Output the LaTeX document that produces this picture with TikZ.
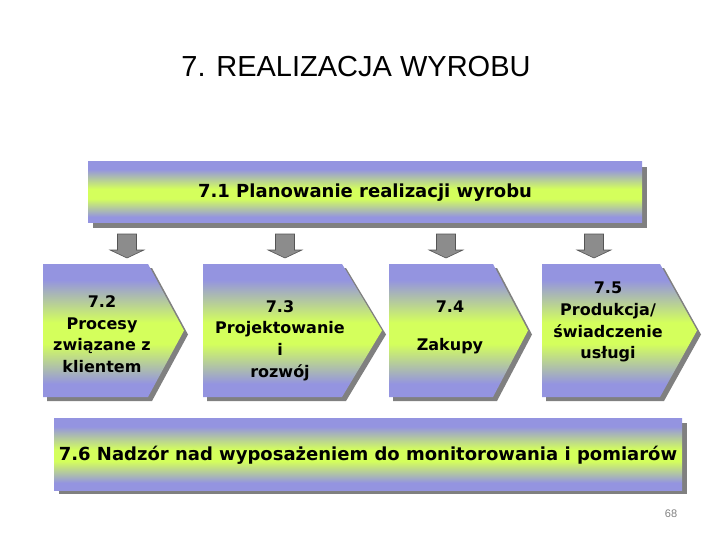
\documentclass[tikz,border=0pt]{standalone}
\usepackage{fontspec}
\setmainfont{DejaVu Sans}
\newfontfamily\titlefont{Liberation Sans}
\usetikzlibrary{calc}
\definecolor{lav}{RGB}{148,148,224}
\definecolor{lime}{RGB}{212,255,92}
\definecolor{shadowgray}{RGB}{128,128,128}
\definecolor{arrowgray}{RGB}{140,140,140}
\definecolor{arrowedge}{RGB}{85,85,85}
\definecolor{pagegray}{RGB}{130,130,130}
\pgfdeclareverticalshading{bandsh}{100bp}{color(0bp)=(lav); color(25bp)=(lav); color(30bp)=(lav); color(45bp)=(lime); color(53bp)=(lime); color(69bp)=(lav); color(75bp)=(lav); color(100bp)=(lav)}
\begin{document}
\begin{tikzpicture}[x=1pt,y=-1pt,
  shadowfill/.style={fill=shadowgray},
  bandbox/.style={shading=bandsh},
  boxtext/.style={font=\bfseries\fontsize{16}{21.7}\selectfont, align=center, inner sep=0pt, anchor=north},
  bartext/.style={font=\bfseries\fontsize{18}{22}\selectfont, inner sep=0pt, anchor=base},
  darrow/.style={fill=arrowgray, draw=arrowedge, line width=0.6pt, line join=miter}]
\useasboundingbox (0,0) rectangle (720,540);
\fill[white] (0,0) rectangle (720,540);

% title
\node[font=\titlefont\fontsize{29}{34}\selectfont, inner sep=0pt, anchor=base] (title) at (356,77) {7. REALIZACJA WYROBU};

% top bar 7.1
\fill[shadowfill] (93,167) rectangle (647,228);
\shade[bandbox] (88,162) rectangle (642,223);
\node[bartext] (n71) at (365,198) {7.1 Planowanie realizacji wyrobu};

% pentagons shadows
\fill[shadowfill] (47,268) -- (152,268) -- (188,334.5) -- (152,401) -- (47,401) -- cycle;
\fill[shadowfill] (207,268) -- (346,268) -- (386,334.5) -- (346,401) -- (207,401) -- cycle;
\fill[shadowfill] (393,268) -- (497,268) -- (532,334.5) -- (497,401) -- (393,401) -- cycle;
\fill[shadowfill] (546,268) -- (664,268) -- (701,334.5) -- (664,401) -- (546,401) -- cycle;
% pentagons
\shade[bandbox] (43,264) -- (148,264) -- (184,330.5) -- (148,397) -- (43,397) -- cycle;
\shade[bandbox] (203,264) -- (342,264) -- (382,330.5) -- (342,397) -- (203,397) -- cycle;
\shade[bandbox] (389,264) -- (493,264) -- (528,330.5) -- (493,397) -- (389,397) -- cycle;
\shade[bandbox] (542,264) -- (660,264) -- (697,330.5) -- (660,397) -- (542,397) -- cycle;

\node[boxtext] (n72) at (102,295.5) {7.2\\Procesy\\związane z\\klientem};
\node[boxtext] (n73) at (280,300) {7.3\\Projektowanie\\i\\rozwój};
\node[boxtext] (n74) at (450,301) {7.4\\[16pt]Zakupy};
\node[boxtext] (n75) at (608,282) {7.5\\Produkcja/\\świadczenie\\usługi};

% block arrows
\coordinate (a2) at (127,234);
\coordinate (a3) at (285,234);
\coordinate (a4) at (446,234);
\coordinate (a5) at (594,234);
\foreach \a in {a2,a3,a4,a5}{
  \draw[darrow] (\a) ++(-9.5,0) -- ++(19,0) -- ++(0,16) -- ++(7.5,0) -- ++(-17,8) -- ++(-17,-8) -- ++(7.5,0) -- cycle;
}

% bottom bar 7.6
\fill[shadowfill] (59,423) rectangle (687,494);
\shade[bandbox] (54,418) rectangle (682,490);
\node[bartext] (n76) at (368,460) {7.6 Nadzór nad wyposażeniem do monitorowania i pomiarów};

% page number
\node[font=\titlefont\fontsize{11}{13}\selectfont, text=pagegray, inner sep=0pt] (page) at (671,514) {68};
\end{tikzpicture}
\end{document}
